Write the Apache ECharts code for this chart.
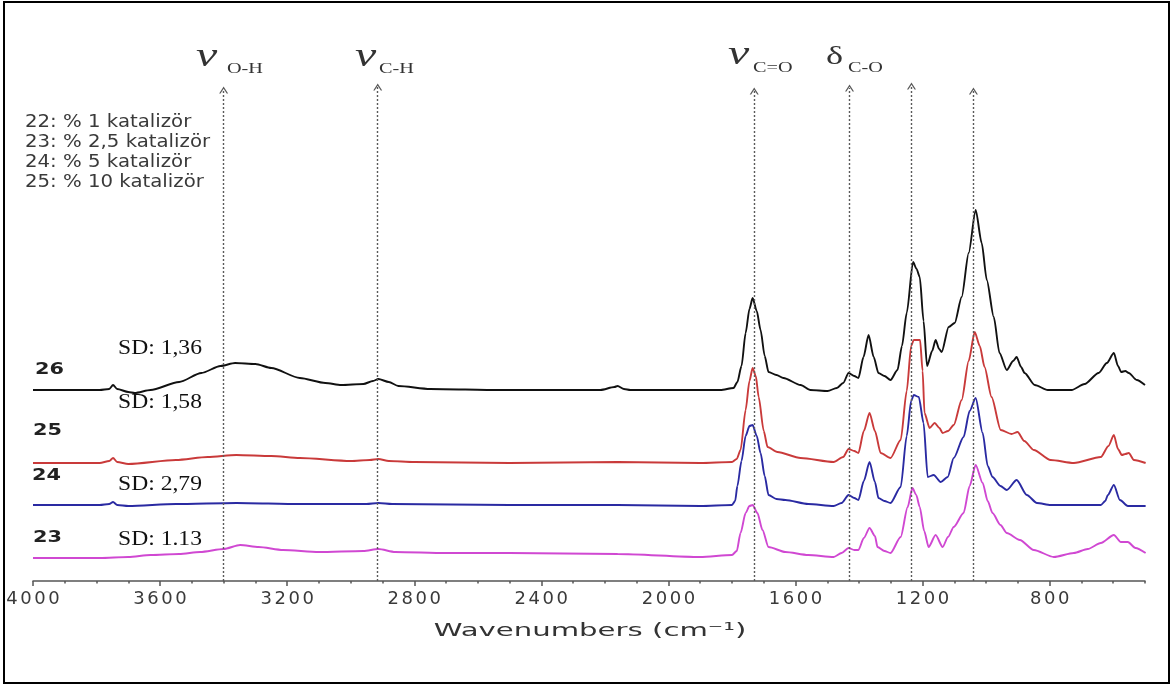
<!DOCTYPE html>
<html>
<head>
<meta charset="utf-8">
<script src="https://cdn.jsdelivr.net/npm/echarts@6/dist/echarts.min.js"></script>
<style>
  html, body { margin: 0; padding: 0; background: #fff; }
  #chart { width: 1171px; height: 686px; }
</style>
</head>
<body>
<div id="chart"></div>
<script>
// FTIR spectra, stacked (absorbance, arbitrary offset units) vs wavenumber (cm-1)
const wavenumberTicks = [4000, 3600, 3200, 2800, 2400, 2000, 1600, 1200, 800];

// Marked band positions (cm-1) and the height of each arrow tip
const bandPositions = [3400, 2915, 1730, 1430, 1235, 1040];
const bandArrowTops = [4.91, 4.94, 4.90, 4.93, 4.95, 4.90];

const bandGlyphs = ['ν', 'ν', 'ν', 'δ'];
const bandSubscripts = ['O-H', 'C-H', 'C=O', 'C-O'];

const legendLines = ['22: % 1 katalizör', '23: % 2,5 katalizör', '24: % 5 katalizör', '25: % 10 katalizör'];
const sampleLabels = ['26', '25', '24', '23'];
const sdLabels = ['SD: 1,36', 'SD: 1,58', 'SD: 2,79', 'SD: 1.13'];

const spectrum26 = [
  [4000,1.91],[3900,1.91],[3790,1.91],[3760,1.92],[3748,1.96],[3735,1.92],[3700,1.89],[3680,1.88],
  [3630,1.91],[3540,1.99],[3470,2.08],[3410,2.15],[3364,2.18],[3300,2.17],[3250,2.13],[3160,2.03],
  [3080,1.98],[3030,1.96],[2960,1.97],[2930,2.00],[2913,2.02],[2880,1.99],[2850,1.95],[2750,1.92],
  [2530,1.91],[2214,1.91],[2170,1.94],[2160,1.95],[2140,1.92],[2120,1.91],[1900,1.91],[1836,1.91],
  [1795,1.93],[1783,1.99],[1770,2.15],[1757,2.48],[1745,2.72],[1735,2.83],[1722,2.70],[1710,2.51],
  [1697,2.25],[1685,2.09],[1660,2.06],[1638,2.03],[1584,1.96],[1553,1.91],[1499,1.90],[1470,1.93],
  [1450,1.98],[1433,2.08],[1415,2.05],[1402,2.03],[1386,2.24],[1370,2.46],[1354,2.24],[1339,2.08],
  [1320,2.05],[1301,2.01],[1279,2.11],[1265,2.35],[1250,2.68],[1230,3.19],[1219,3.12],[1209,3.04],
  [1197,2.60],[1186,2.15],[1170,2.30],[1159,2.41],[1148,2.32],[1140,2.29],[1118,2.54],[1099,2.58],
  [1077,2.84],[1055,3.28],[1033,3.71],[1014,3.38],[998,3.01],[976,2.64],[958,2.28],[935,2.11],
  [915,2.20],[904,2.24],[890,2.14],[879,2.08],[847,1.96],[806,1.91],[731,1.91],[690,1.97],
  [646,2.08],[620,2.18],[598,2.28],[585,2.15],[575,2.09],[562,2.10],[551,2.08],[526,2.01],[500,1.96]
];

const spectrum25 = [
  [4000,1.18],[3790,1.18],[3760,1.20],[3748,1.23],[3735,1.19],[3700,1.17],[3550,1.21],[3450,1.24],
  [3360,1.26],[3250,1.25],[3160,1.23],[3000,1.20],[2940,1.21],[2913,1.22],[2880,1.20],[2800,1.19],
  [2500,1.18],[2160,1.19],[1900,1.18],[1800,1.19],[1785,1.22],[1773,1.31],[1757,1.71],[1745,2.00],
  [1735,2.13],[1725,2.05],[1716,1.84],[1700,1.50],[1688,1.34],[1657,1.29],[1584,1.23],[1480,1.19],
  [1450,1.24],[1433,1.32],[1415,1.30],[1402,1.28],[1385,1.50],[1367,1.68],[1350,1.50],[1332,1.28],
  [1301,1.23],[1269,1.41],[1250,1.90],[1236,2.35],[1228,2.41],[1208,2.41],[1200,2.10],[1194,1.68],
  [1178,1.53],[1162,1.58],[1147,1.53],[1137,1.48],[1120,1.50],[1102,1.56],[1077,1.81],[1055,2.20],
  [1036,2.49],[1020,2.35],[1005,2.14],[983,1.84],[954,1.51],[920,1.47],[901,1.49],[880,1.40],
  [850,1.31],[797,1.21],[724,1.18],[639,1.24],[615,1.35],[598,1.46],[585,1.32],[573,1.26],
  [562,1.27],[551,1.28],[535,1.21],[498,1.18]
];

const spectrum24 = [
  [4000,0.76],[3790,0.76],[3760,0.77],[3748,0.79],[3735,0.76],[3700,0.75],[3550,0.77],[3360,0.78],
  [3160,0.77],[2950,0.77],[2913,0.78],[2870,0.77],[2500,0.76],[2160,0.76],[1900,0.75],[1800,0.76],
  [1790,0.80],[1783,0.95],[1770,1.20],[1757,1.45],[1745,1.55],[1735,1.56],[1722,1.45],[1710,1.28],
  [1697,1.05],[1685,0.86],[1660,0.82],[1632,0.81],[1560,0.77],[1480,0.75],[1455,0.78],[1433,0.86],
  [1415,0.83],[1402,0.81],[1385,1.00],[1367,1.19],[1350,0.99],[1339,0.83],[1320,0.80],[1301,0.78],
  [1269,0.94],[1250,1.45],[1236,1.80],[1228,1.86],[1212,1.84],[1197,1.58],[1184,1.04],[1165,1.06],
  [1143,0.99],[1121,1.04],[1102,1.23],[1071,1.44],[1052,1.70],[1033,1.83],[1011,1.48],[995,1.15],
  [980,1.04],[955,0.95],[935,0.91],[904,1.01],[872,0.86],[840,0.78],[797,0.76],[639,0.76],
  [625,0.80],[617,0.86],[598,0.96],[579,0.81],[554,0.75],[498,0.75]
];

const spectrum23 = [
  [4000,0.23],[3790,0.23],[3700,0.24],[3630,0.26],[3540,0.27],[3474,0.29],[3400,0.32],[3348,0.36],
  [3290,0.34],[3213,0.31],[3100,0.29],[2960,0.30],[2913,0.32],[2860,0.29],[2700,0.28],[2500,0.28],
  [2160,0.27],[1900,0.24],[1800,0.26],[1785,0.30],[1773,0.48],[1757,0.68],[1745,0.75],[1735,0.76],
  [1720,0.68],[1704,0.51],[1685,0.34],[1632,0.29],[1560,0.26],[1480,0.24],[1455,0.28],[1433,0.33],
  [1415,0.31],[1402,0.31],[1385,0.43],[1367,0.53],[1350,0.45],[1342,0.34],[1320,0.30],[1301,0.28],
  [1269,0.44],[1247,0.74],[1232,0.93],[1220,0.86],[1209,0.74],[1195,0.50],[1181,0.34],[1159,0.46],
  [1137,0.34],[1120,0.44],[1102,0.54],[1071,0.68],[1052,0.95],[1033,1.16],[1011,0.98],[995,0.80],
  [980,0.68],[955,0.56],[935,0.48],[894,0.41],[850,0.31],[787,0.24],[724,0.28],[680,0.32],
  [639,0.38],[598,0.46],[576,0.39],[554,0.39],[530,0.33],[498,0.28]
];

const seriesColors = ['#111111', '#c93a3a', '#2a2aa2', '#d048d2'];

// open chevron used as the arrow head on top of each band marker
const chevron = 'path://M0,8 L5,0 L10,8 L8.4,8 L5,2.6 L1.6,8 Z';

function spectrumSeries(name, data, color, extra) {
  return Object.assign({
    name: name,
    type: 'line',
    data: data,
    symbol: 'none',
    showSymbol: false,
    smooth: 0.25,
    smoothMonotone: 'x',
    lineStyle: { color: color, width: 1.9 },
    z: 3
  }, extra || {});
}

function text(str, x, y, o) {
  o = o || {};
  return {
    type: 'text', x: x, y: y, scaleX: o.sx || 1, silent: true, z: 50,
    style: {
      text: str,
      fill: o.color || '#222',
      fontFamily: o.family || 'DejaVu Sans',
      fontSize: o.size || 16,
      fontWeight: o.weight || 'normal',
      fontStyle: o.style || 'normal',
      align: o.align || 'left',
      verticalAlign: 'middle'
    }
  };
}

const digitLabel = v => String(v).split('').map(c => '{d|' + c + '}').join('');

const graphics = [
  { type: 'rect', silent: true, z: 100,
    shape: { x: 4, y: 2, width: 1165, height: 681 },
    style: { fill: 'none', stroke: '#000', lineWidth: 2 } }
];

// legend block, top left
const legendY = [122.5, 143, 163, 183];
legendLines.forEach((s, i) => graphics.push(text(s, 25, legendY[i], { size: 17, sx: 1.16, color: '#3a3a3a' })));

// sample numbers and SD notes beside each trace
const sampleXY = [[35, 370], [33, 431], [32, 476], [33, 538]];
sampleLabels.forEach((s, i) => graphics.push(text(s, sampleXY[i][0], sampleXY[i][1], { size: 16, weight: 'bold', sx: 1.3, color: '#222' })));
const sdY = [349, 403, 485, 540];
sdLabels.forEach((s, i) => graphics.push(text(s, 118, sdY[i], { family: 'Liberation Serif', size: 20, sx: 1.18, color: '#111' })));

// band annotations: greek symbol with a subscript
const glyphXY = [[196, 57], [355, 57], [728, 55], [826, 57]];
const subXY = [[227, 69], [379, 69], [753, 68], [848, 68]];
bandGlyphs.forEach((g, i) => {
  const isNu = g === 'ν';
  graphics.push(text(g, glyphXY[i][0], glyphXY[i][1], {
    family: 'Liberation Serif', size: isNu ? 33 : 25, style: isNu ? 'italic' : 'normal', sx: 1.45, color: '#333'
  }));
  graphics.push(text(bandSubscripts[i], subXY[i][0], subXY[i][1], {
    family: 'Liberation Serif', size: 15, sx: 1.35, color: '#333'
  }));
});

// axis title
graphics.push(text('Wavenumbers (cm⁻¹)', 590, 631, { size: 18, sx: 1.62, align: 'center', color: '#333' }));

const axisColor = '#555';

const option = {
  animation: false,
  backgroundColor: '#fff',
  grid: { left: 33, right: 26, top: 31, bottom: 105 },
  xAxis: [
    {
      type: 'value', inverse: true, min: 500, max: 4000, interval: 100, position: 'bottom',
      axisLine: { show: true, lineStyle: { color: axisColor, width: 1.5 } },
      axisTick: { show: true, length: 2.5, lineStyle: { color: axisColor, width: 1.5 } },
      splitLine: { show: false },
      axisLabel: {
        margin: 9,
        formatter: v => wavenumberTicks.includes(v) ? digitLabel(v) : '',
        rich: { d: { width: 14, align: 'center', fontSize: 18, fontFamily: 'DejaVu Sans', color: '#3a3a3a' } }
      }
    },
    {
      type: 'value', inverse: true, min: 500, max: 4000, position: 'bottom', offset: 0,
      axisLine: { show: false },
      axisTick: { show: true, length: 5, customValues: wavenumberTicks, lineStyle: { color: axisColor, width: 1.5 } },
      axisLabel: { show: false },
      splitLine: { show: false }
    }
  ],
  yAxis: { type: 'value', min: 0, max: 5.5, show: false },
  series: [
    spectrumSeries('26', spectrum26, seriesColors[0], {
      markLine: {
        silent: true,
        symbol: ['none', chevron],
        symbolSize: [9, 7],
        label: { show: false },
        lineStyle: { color: '#5a5a5a', type: [2, 2], width: 1.4 },
        emphasis: { disabled: true },
        data: bandPositions.map((w, i) => [{ coord: [w, 0] }, { coord: [w, bandArrowTops[i]] }])
      }
    }),
    spectrumSeries('25', spectrum25, seriesColors[1]),
    spectrumSeries('24', spectrum24, seriesColors[2]),
    spectrumSeries('23', spectrum23, seriesColors[3])
  ],
  graphic: graphics
};

const chart = echarts.init(document.getElementById('chart'));
chart.setOption(option);
</script>
</body>
</html>
